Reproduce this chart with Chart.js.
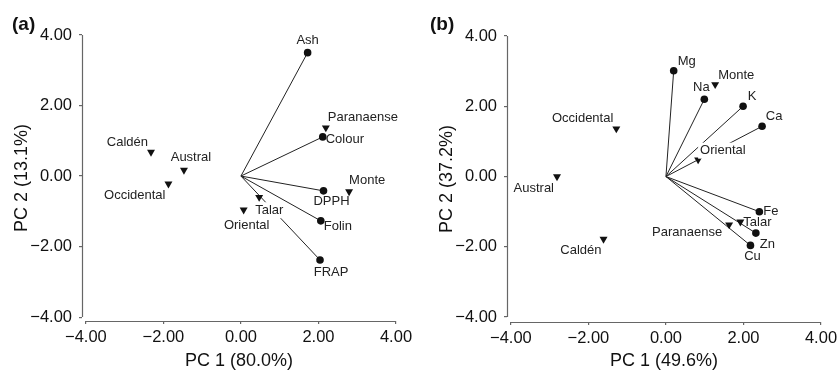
<!DOCTYPE html>
<html>
<head>
<meta charset="utf-8">
<script src="https://cdn.jsdelivr.net/npm/chart.js@4/dist/chart.umd.min.js"></script>
<style>
  body { margin: 0; background: #fff; }
  canvas { position: absolute; top: 0; }
  #chartA { left: 0; }
  #chartB { left: 418px; }
</style>
</head>
<body>
<canvas id="chartA" width="418" height="371"></canvas>
<canvas id="chartB" width="419" height="371"></canvas>
<script>
const tickValues = [-4, -2, 0, 2, 4];

// (a) antioxidant variables and sites
const varNamesA = ['Ash', 'Colour', 'DPPH', 'Folin', 'FRAP'];
const varXA = [1.72, 2.11, 2.13, 2.06, 2.04];
const varYA = [3.50, 1.11, -0.42, -1.27, -2.38];
const siteNamesA = ['Paranaense', 'Monte', 'Talar', 'Oriental', 'Caldén', 'Austral', 'Occidental'];
const siteXA = [2.19, 2.79, 0.47, 0.07, -2.32, -1.47, -1.87];
const siteYA = [1.37, -0.44, -0.60, -0.96, 0.68, 0.17, -0.22];

// (b) minerals and sites
const varNamesB = ['Mg', 'Na', 'K', 'Ca', 'Fe', 'Zn', 'Cu'];
const varXB = [0.20, 0.99, 1.99, 2.48, 2.41, 2.32, 2.18];
const varYB = [3.01, 2.20, 2.00, 1.43, -1.00, -1.61, -1.96];
const siteNamesB = ['Monte', 'Occidental', 'Oriental', 'Austral', 'Caldén', 'Paranaense', 'Talar'];
const siteXB = [1.27, -1.28, 0.83, -2.81, -1.61, 1.63, 1.92];
const siteYB = [2.62, 1.36, 0.48, 0.00, -1.78, -1.37, -1.29];

// label placement: [dx, dy, align, white background]
const placeA = {
    Ash: [0, -12, 'center'], Colour: [3, 3, 'left'], DPPH: [8, 11, 'center'],
    Folin: [3, 6, 'left'], FRAP: [11, 12, 'center'],
    Paranaense: [2, -10, 'left'], Monte: [0, -11, 'left'], Talar: [-4, 13, 'left', true],
    Oriental: [3, 16, 'center'], 'Caldén': [-3, -10, 'right'], Austral: [7, -13, 'center'],
    Occidental: [-3, 12, 'right']
};
const placeB = {
    Mg: [4, -9, 'left'], Na: [-3, -12, 'center'], K: [9, -10, 'center'], Ca: [12, -10, 'center'],
    Fe: [4, 0, 'left'], Zn: [4, 11, 'left'], Cu: [2, 11, 'center'],
    Monte: [3, -9, 'left'], Occidental: [-3, -10, 'right'], Oriental: [2, -9, 'left', true],
    Austral: [-3, 12, 'right'], 'Caldén': [-2, 11, 'right'], Paranaense: [-7, 8, 'right'],
    Talar: [3, 1, 'left']
};

const FONT = '"Liberation Sans", Arial, sans-serif';
const INK = '#111';

const biplotPlugin = {
    id: 'biplot',
    beforeDatasetsDraw(chart) {
        const ctx = chart.ctx, xs = chart.scales.x, ys = chart.scales.y;
        ctx.save();
        ctx.strokeStyle = '#666';
        ctx.lineWidth = 1.2;
        ctx.beginPath();
        const yb = Math.round(ys.bottom) + 0.5;
        ctx.moveTo(xs.getPixelForValue(-4), yb);
        ctx.lineTo(xs.getPixelForValue(4), yb);
        const xl = Math.round(xs.left) + 0.5;
        ctx.moveTo(xl, ys.getPixelForValue(-4));
        ctx.lineTo(xl, ys.getPixelForValue(4));
        ctx.stroke();
        ctx.restore();
    },
    afterDatasetsDraw(chart) {
        const ctx = chart.ctx;
        const place = chart.options.plugins.biplot.place;
        ctx.save();
        ctx.font = '13px ' + FONT;
        ctx.textBaseline = 'middle';
        chart.data.datasets.forEach((ds, i) => {
            if (!ds.names) return;
            chart.getDatasetMeta(i).data.forEach((pt, j) => {
                const p = place[ds.names[j]] || [0, -10, 'center'];
                const x = pt.x + p[0], y = pt.y + p[1];
                ctx.textAlign = p[2];
                if (p[3]) {
                    const w = ctx.measureText(ds.names[j]).width;
                    const x0 = p[2] === 'left' ? x : p[2] === 'right' ? x - w : x - w / 2;
                    ctx.fillStyle = '#fff';
                    ctx.fillRect(x0 - 2, y - 8, w + 4, 16);
                }
                ctx.fillStyle = '#222';
                ctx.fillText(ds.names[j], x, y);
            });
        });
        ctx.restore();
    },
    afterDraw(chart) {
        const ctx = chart.ctx;
        ctx.save();
        ctx.font = 'bold 19px ' + FONT;
        ctx.fillStyle = INK;
        ctx.textBaseline = 'middle';
        ctx.textAlign = 'left';
        ctx.fillText(chart.options.plugins.biplot.letter, 12, 25);
        ctx.restore();
    }
};

function fmt(v) {
    return (v < 0 ? '\u2212' : '') + Math.abs(v).toFixed(2);
}

function makeBiplot(id, cfg) {
    const datasets = [];
    cfg.varNames.forEach((n, i) => {
        datasets.push({
            data: [{x: 0, y: 0}, {x: cfg.varX[i], y: cfg.varY[i]}],
            showLine: true, pointRadius: 0, borderColor: '#222', borderWidth: 1, order: 5
        });
    });
    datasets.push({
        names: cfg.varNames,
        data: cfg.varX.map((x, i) => ({x: x, y: cfg.varY[i]})),
        pointStyle: 'circle', pointRadius: 3.8, backgroundColor: INK, borderWidth: 0, order: 1
    });
    datasets.push({
        names: cfg.siteNames,
        data: cfg.siteX.map((x, i) => ({x: x, y: cfg.siteY[i]})),
        pointStyle: 'triangle', rotation: 180, pointRadius: 4.6, backgroundColor: INK, borderWidth: 0, order: 1
    });

    new Chart(document.getElementById(id), {
        type: 'scatter',
        data: { datasets: datasets },
        plugins: [biplotPlugin],
        options: {
            responsive: false,
            animation: false,
            events: [],
            layout: { padding: cfg.padding },
            plugins: {
                legend: { display: false },
                tooltip: { enabled: false },
                biplot: { place: cfg.place, letter: cfg.letter }
            },
            scales: {
                x: {
                    min: cfg.xMin, max: 4,
                    afterBuildTicks: s => { s.ticks = tickValues.map(v => ({value: v})); },
                    afterFit: s => { s.height = cfg.xHeight; s.paddingLeft = 0; s.paddingRight = 0; },
                    border: { display: false },
                    grid: { drawOnChartArea: false, drawTicks: true, tickLength: 3, color: '#666', lineWidth: 1.2 },
                    ticks: { padding: 4, color: INK, font: { size: 16.5, family: FONT }, callback: fmt, maxRotation: 0, autoSkip: false },
                    title: { display: true, text: cfg.xTitle, color: INK, font: { size: 18, family: FONT }, padding: { top: 0, bottom: -1 } }
                },
                y: {
                    min: cfg.yMin, max: 4,
                    afterBuildTicks: s => { s.ticks = tickValues.map(v => ({value: v})); },
                    afterFit: s => { s.width = 71; s.paddingTop = 0; s.paddingBottom = 0; },
                    border: { display: false },
                    grid: { drawOnChartArea: false, drawTicks: true, tickLength: 3, color: '#666', lineWidth: 1.2 },
                    ticks: { padding: 7, color: INK, font: { size: 16.5, family: FONT }, callback: fmt, autoSkip: false },
                    title: { display: true, text: cfg.yTitle, color: INK, font: { size: 18, family: FONT }, padding: { top: 0, bottom: 0 } }
                }
            }
        }
    });
}

makeBiplot('chartA', {
    varNames: varNamesA, varX: varXA, varY: varYA,
    siteNames: siteNamesA, siteX: siteXA, siteY: siteYA,
    place: placeA, letter: '(a)',
    xTitle: 'PC 1 (80.0%)', yTitle: 'PC 2 (13.1%)',
    xMin: -4.1, yMin: -4.11, xHeight: 50,
    padding: { top: 35, right: 22, left: 11, bottom: 0 }
});

makeBiplot('chartB', {
    varNames: varNamesB, varX: varXB, varY: varYB,
    siteNames: siteNamesB, siteX: siteXB, siteY: siteYB,
    place: placeB, letter: '(b)',
    xTitle: 'PC 1 (49.6%)', yTitle: 'PC 2 (37.2%)',
    xMin: -4.1, yMin: -4.14, xHeight: 49,
    padding: { top: 36, right: 16, left: 18, bottom: 0 }
});
</script>
</body>
</html>
